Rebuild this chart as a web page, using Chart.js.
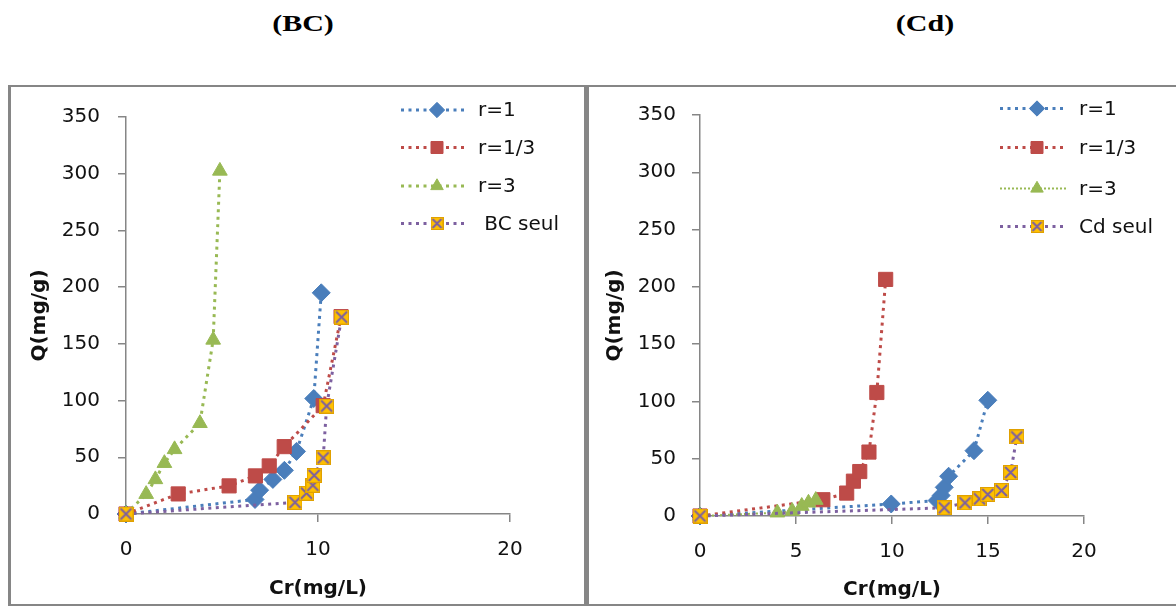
<!DOCTYPE html>
<html>
<head>
<meta charset="utf-8">
<script src="https://cdn.jsdelivr.net/npm/chart.js@4"></script>
<style>
  body { margin: 0; width: 1176px; height: 606px; background: #fff; position: relative; overflow: hidden; }
  .title { position: absolute; top: 11px; width: 200px; text-align: center; font: bold 24px/24px "Liberation Serif"; transform: scaleX(1.25); }
  .frame { position: absolute; left: 8px; top: 85px; width: 1175px; height: 517px;
           border-top: 2px solid #868686; border-left: 3px solid #868686; border-bottom: 2px solid #868686; }
  .divider { position: absolute; left: 584px; top: 85px; width: 5px; height: 521px; background: #868686; }
  canvas { position: absolute; top: 87px; }
</style>
</head>
<body>
<div class="title" style="left:203px">(BC)</div>
<div class="title" style="left:825px">(Cd)</div>
<div class="frame"></div>
<div class="divider"></div>
<canvas id="chartBC" width="573" height="517" style="left:11px"></canvas>
<canvas id="chartCd" width="587" height="517" style="left:589px"></canvas>
<script>
// axis ticks
const yMin = 0, yMax = 350, yStep = 50;
const xMin = 0, xMax = 20;

// (BC) panel
const bcLabels = ['r=1', 'r=1/3', 'r=3', ' BC seul'];
const bcR1x = [0, 6.72, 6.96, 7.65, 8.25, 8.88, 9.78, 10.17];
const bcR1y = [0, 12.8, 21, 30.5, 38.5, 55.2, 101.8, 195];
const bcR13x = [0, 2.72, 5.37, 6.74, 7.46, 8.24, 10.27, 11.2];
const bcR13y = [0, 17.7, 24.8, 33.6, 42.4, 59.4, 95.5, 174];
const bcR3x = [0, 1.05, 1.53, 2.0, 2.53, 3.85, 4.54, 4.89];
const bcR3y = [0, 17.5, 30.5, 44.8, 57, 80, 153.5, 302.5];
const bcSeulx = [0, 8.8, 9.4, 9.73, 9.8, 10.27, 10.45, 11.23];
const bcSeuly = [0, 10.3, 18.4, 25.4, 34, 49.5, 95.2, 173.6];

// (Cd) panel
const cdLabels = ['r=1', 'r=1/3', 'r=3', 'Cd seul'];
const cdR1x = [0, 9.96, 12.35, 12.56, 12.72, 12.95, 14.27, 14.99];
const cdR1y = [0, 10.5, 13.5, 17.9, 25, 34.7, 57, 101];
const cdR13x = [0, 6.4, 7.64, 7.99, 8.32, 8.8, 9.21, 9.67];
const cdR13y = [0, 14.2, 20, 30.4, 38.8, 55.8, 107.8, 206.5];
const cdR3x = [0, 4.03, 4.8, 5.3, 5.65, 6.03];
const cdR3y = [0, 2.9, 4.3, 8.7, 11.5, 13.9];
const cdSeulx = [0, 12.72, 13.8, 14.56, 14.99, 15.7, 16.18, 16.5];
const cdSeuly = [0, 7.2, 11.5, 15, 18.8, 22.2, 38, 69];

const blue = '#4A7EBB', red = '#BE4B48', green = '#98B954', purple = '#7D60A0', orange = '#FFC000';
const axisColor = '#868686';
const tickFont = { family: 'DejaVu Sans', size: 20 };
const titleFont = { family: 'DejaVu Sans', size: 20, weight: 'bold' };

// orange square with a purple cross, like the Excel marker
function boxCross(size) {
    var c = document.createElement('canvas');
    c.width = size; c.height = size;
    var g = c.getContext('2d');
    g.fillStyle = orange;
    g.fillRect(0, 0, size, size);
    g.strokeStyle = '#E0A000';
    g.lineWidth = 1;
    g.strokeRect(0.5, 0.5, size - 1, size - 1);
    g.strokeStyle = purple;
    g.lineWidth = 2;
    g.beginPath();
    g.moveTo(2, 2); g.lineTo(size - 2, size - 2);
    g.moveTo(size - 2, 2); g.lineTo(2, size - 2);
    g.stroke();
    return c;
}

function pts(xs, ys) {
    return xs.map((x, i) => ({ x: x, y: ys[i] }));
}

function series(label, xs, ys, color, style, radius, order, dash, width) {
    return {
        label: label,
        data: pts(xs, ys),
        showLine: true,
        borderColor: color,
        borderWidth: width || 3,
        borderDash: dash || [3, 4.5],
        pointStyle: style,
        pointRadius: radius,
        pointBackgroundColor: style instanceof HTMLCanvasElement ? orange : color,
        pointBorderColor: color,
        pointBorderWidth: 1,
        tension: 0,
        clip: false,
        order: order
    };
}

// legend drawn like the Excel one: dotted line with the marker in the middle
const sideLegend = {
    id: 'sideLegend',
    afterDraw(chart, args, opts) {
        const ctx = chart.ctx;
        ctx.save();
        chart.data.datasets.forEach((ds, i) => {
            const y = opts.rows[i];
            ctx.strokeStyle = ds.borderColor;
            ctx.lineWidth = ds.borderWidth;
            ctx.setLineDash(ds.borderDash);
            ctx.beginPath();
            ctx.moveTo(opts.x0, y);
            ctx.lineTo(opts.x1, y);
            ctx.stroke();
            ctx.setLineDash([]);
            ctx.fillStyle = ds.pointBackgroundColor;
            ctx.strokeStyle = ds.pointBorderColor;
            ctx.lineWidth = 1;
            const style = ds.pointStyle instanceof HTMLCanvasElement ? opts.smallBox : ds.pointStyle;
            Chart.helpers.drawPoint(ctx, { pointStyle: style, radius: ds.pointRadius * 0.85, borderWidth: 1, rotation: 0 }, opts.xm, y);
            ctx.fillStyle = '#111';
            ctx.font = '20px "DejaVu Sans"';
            ctx.textBaseline = 'middle';
            ctx.fillText(ds.label, opts.xt, y + 1);
        });
        ctx.restore();
    }
};

function makeChart(id, datasets, xStep, lay) {
    return new Chart(document.getElementById(id), {
        type: 'scatter',
        data: { datasets: datasets },
        options: {
            responsive: false,
            animation: false,
            layout: { padding: { left: 0, top: lay.top, right: lay.right, bottom: 0 } },
            plugins: {
                legend: { display: false },
                tooltip: { enabled: false },
                sideLegend: lay.legend
            },
            scales: {
                x: {
                    type: 'linear', min: xMin, max: xMax,
                    ticks: { stepSize: xStep, padding: lay.xPad, color: '#111', font: tickFont },
                    grid: { drawOnChartArea: false, tickLength: 8, color: axisColor, lineWidth: 1.5 },
                    border: { color: axisColor, width: 1.5 },
                    title: { display: true, text: 'Cr(mg/L)', color: '#111', font: titleFont, padding: { top: 0, bottom: lay.xTitle } },
                    afterFit: (s) => { s.height = lay.xh; }
                },
                y: {
                    min: yMin, max: yMax,
                    ticks: { stepSize: yStep, padding: lay.yPad, color: '#111', font: tickFont },
                    grid: { drawOnChartArea: false, tickLength: 8, color: axisColor, lineWidth: 1.5 },
                    border: { color: axisColor, width: 1.5 },
                    title: { display: true, text: 'Q(mg/g)', color: '#111', font: titleFont, padding: { top: lay.yTitle, bottom: 0 } },
                    afterFit: (s) => { s.width = lay.yw; }
                }
            }
        },
        plugins: [sideLegend]
    });
}

const crossBig = boxCross(15);
const crossSmall = boxCross(13);

makeChart('chartBC', [
    series(bcLabels[0], bcR1x, bcR1y, blue, 'rectRot', 9, 3),
    series(bcLabels[1], bcR13x, bcR13y, red, 'rect', 10, 2),
    series(bcLabels[2], bcR3x, bcR3y, green, 'triangle', 8.5, 1),
    series(bcLabels[3], bcSeulx, bcSeuly, purple, crossBig, 8, 0)
], 10, {
    top: 28, right: 74, yw: 115, xh: 90, xPad: 16, yPad: 18, xTitle: 3, yTitle: 17,
    legend: { rows: [23, 60.5, 99, 136.5], x0: 390, x1: 456, xm: 426, xt: 467, smallBox: crossSmall }
});

makeChart('chartCd', [
    series(cdLabels[0], cdR1x, cdR1y, blue, 'rectRot', 9, 3),
    series(cdLabels[1], cdR13x, cdR13y, red, 'rect', 10, 2),
    series(cdLabels[2], cdR3x, cdR3y, green, 'triangle', 8.5, 1, [2, 2], 2),
    series(cdLabels[3], cdSeulx, cdSeuly, purple, crossBig, 8, 0)
], 5, {
    top: 26, right: 92, yw: 111, xh: 88, xPad: 15.5, yPad: 16, xTitle: 2, yTitle: 14,
    legend: { rows: [21.5, 60.5, 101.5, 139.5], x0: 411, x1: 478, xm: 448, xt: 490, smallBox: crossSmall }
});
</script>
</body>
</html>
